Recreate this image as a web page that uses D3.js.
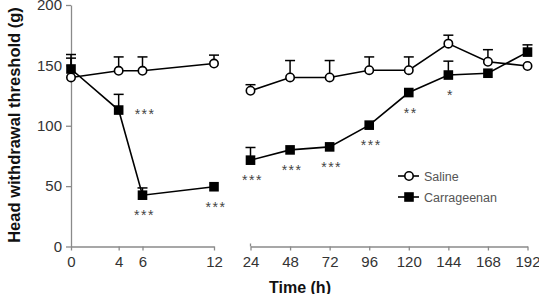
<!DOCTYPE html>
<html><head><meta charset="utf-8">
<script src="https://cdn.jsdelivr.net/npm/d3@7"></script>
<style>
html,body{margin:0;padding:0;background:#fff;}
svg{display:block;font-family:"Liberation Sans",Arial,sans-serif;}
</style></head>
<body>
<svg id="chart" width="539" height="294"></svg>
<script>
// ---- data ----
const times = [0, 4, 6, 12, 24, 48, 72, 96, 120, 144, 168, 192];
const earlyTicks = [0, 4, 6, 12];
const lateTicks = [24, 48, 72, 96, 120, 144, 168, 192];
const yTicks = [0, 50, 100, 150, 200];
const salineMean = [140, 145.5, 145.5, 151.5, 129, 140, 140, 146, 146, 168, 153, 149.5];
const salineErr  = [16, 11.5, 11.5, 7, 5, 14, 14, 11, 11, 7, 10, 0];
const carrMean   = [147, 113, 42.5, 49.5, 71.5, 80, 82.5, 100.5, 127.5, 142, 143.5, 161];
const carrErr    = [12, 13, 6, 0, 10.5, 0, 0, 0, 0, 11.5, 0, 6];
const carrSig    = ["", "***", "***", "***", "***", "***", "***", "***", "**", "*", "", ""];
const seriesNames = ["Saline", "Carrageenan"];

// ---- scales ----
const svg = d3.select("#chart");
const y = d3.scaleLinear().domain([0, 200]).range([246.5, 5]);
const x1 = d3.scaleLinear().domain([0, 12]).range([71, 214]);
const x2 = d3.scaleLinear().domain([24, 192]).range([250.5, 527.5]);
const xp = t => (t <= 12 ? x1(t) : x2(t));

const axisColor = "#8a8a8a";
const labelColor = "#333";

// ---- axes ----
const yAxis = svg.append("g").attr("transform", "translate(71,0)")
  .call(d3.axisLeft(y).tickValues(yTicks).tickSize(5).tickSizeOuter(0).tickPadding(4));
const xAxis1 = svg.append("g").attr("transform", `translate(0,${y(0)})`)
  .call(d3.axisBottom(x1).tickValues(earlyTicks).tickSize(4).tickSizeOuter(0).tickPadding(6));
const xAxis2 = svg.append("g").attr("transform", `translate(0,${y(0)})`)
  .call(d3.axisBottom(x2).tickValues(lateTicks).tickSize(4).tickSizeOuter(0).tickPadding(6));
[yAxis, xAxis1, xAxis2].forEach(g => {
  g.select(".domain").attr("stroke", axisColor).attr("stroke-width", 1.3);
  g.selectAll(".tick line").attr("stroke", axisColor).attr("stroke-width", 1.3);
  g.selectAll(".tick text").attr("fill", labelColor).attr("font-size", 15)
    .attr("font-family", "Liberation Sans, Arial, sans-serif");
});
// small cap on start of late axis
xAxis2.append("line").attr("x1", x2(24)).attr("x2", x2(24)).attr("y1", -3).attr("y2", 0)
  .attr("stroke", axisColor).attr("stroke-width", 1.3);

// ---- titles ----
svg.append("text").attr("x", 300).attr("y", 293).attr("text-anchor", "middle")
  .attr("font-size", 16).attr("font-weight", "bold").attr("fill", "#111").text("Time (h)");
svg.append("text").attr("transform", "translate(20,125) rotate(-90)").attr("text-anchor", "middle")
  .attr("font-size", 16.5).attr("font-weight", "bold").attr("fill", "#111")
  .text("Head withdrawal threshold (g)");

// ---- series ----
const series = [
  {name: seriesNames[1], mean: carrMean, err: carrErr, shape: "square"},
  {name: seriesNames[0], mean: salineMean, err: salineErr, shape: "circle"}
];
const line = d3.line().x(d => xp(d.t)).y(d => y(d.v));
series.forEach(s => {
  const pts = times.map((t, i) => ({t, v: s.mean[i], e: s.err[i]}));
  const segs = [pts.filter(p => p.t <= 12), pts.filter(p => p.t > 12)];
  const g = svg.append("g");
  segs.forEach(seg => g.append("path").attr("d", line(seg)).attr("fill", "none")
    .attr("stroke", "#000").attr("stroke-width", 1.6));
  pts.filter(p => p.e > 0).forEach(p => {
    const cx = xp(p.t);
    g.append("line").attr("x1", cx).attr("x2", cx).attr("y1", y(p.v)).attr("y2", y(p.v + p.e))
      .attr("stroke", "#000").attr("stroke-width", 1.5);
    g.append("line").attr("x1", cx - 5).attr("x2", cx + 5).attr("y1", y(p.v + p.e)).attr("y2", y(p.v + p.e))
      .attr("stroke", "#000").attr("stroke-width", 1.5);
  });
  pts.forEach(p => {
    if (s.shape === "square") {
      g.append("rect").attr("x", xp(p.t) - 4.8).attr("y", y(p.v) - 4.8).attr("width", 9.6).attr("height", 9.6)
        .attr("fill", "#000");
    } else {
      g.append("circle").attr("cx", xp(p.t)).attr("cy", y(p.v)).attr("r", 4.2)
        .attr("fill", "#fff").attr("stroke", "#000").attr("stroke-width", 1.6);
    }
  });
});

// ---- significance ----
times.forEach((t, i) => {
  const lab = carrSig[i];
  if (!lab) return;
  const right = (t === 4);
  const cx = xp(t), cy = y(carrMean[i]);
  svg.append("text")
    .attr("x", right ? cx + 16 : cx + 2)
    .attr("y", right ? cy + 9 : cy + 25)
    .attr("text-anchor", right ? "start" : "middle")
    .attr("font-size", 14).attr("letter-spacing", 1.5).attr("fill", "#444")
    .text(lab);
});

// ---- legend ----
const legend = svg.append("g");
[{name: seriesNames[0], shape: "circle", yy: 176}, {name: seriesNames[1], shape: "square", yy: 197}].forEach(l => {
  legend.append("line").attr("x1", 398).attr("x2", 419).attr("y1", l.yy).attr("y2", l.yy)
    .attr("stroke", "#000").attr("stroke-width", 1.6);
  if (l.shape === "circle") {
    legend.append("circle").attr("cx", 409).attr("cy", l.yy).attr("r", 4.2)
      .attr("fill", "#fff").attr("stroke", "#000").attr("stroke-width", 1.6);
  } else {
    legend.append("rect").attr("x", 409 - 4.8).attr("y", l.yy - 4.8).attr("width", 9.6).attr("height", 9.6).attr("fill", "#000");
  }
  legend.append("text").attr("x", 424).attr("y", l.yy + 4.5).attr("font-size", 12.5).attr("fill", "#555").text(l.name);
});
</script>
</body></html>
